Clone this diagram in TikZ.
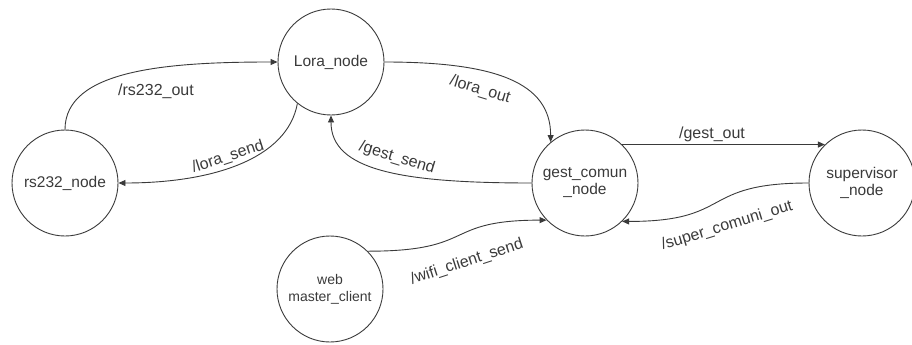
\documentclass[tikz,border=0pt]{standalone}
\usepackage{fontspec}
\setmainfont{Liberation Sans}
\usetikzlibrary{arrows.meta}
\definecolor{ink}{HTML}{3A3A3A}
\tikzset{
  state/.style={circle, draw=ink, line width=0.9pt, minimum size=106pt, inner sep=0pt,
    align=center, text=ink, font=\fontsize{15.5}{17}\selectfont},
  edge/.style={draw=ink, line width=0.9pt, -{Triangle[length=7pt,width=6pt]}},
  lbl/.style={text=ink, font=\fontsize{16}{18}\selectfont, inner sep=1pt}
}
\begin{document}
\begin{tikzpicture}[x=1pt,y=-1pt]
  \useasboundingbox (0,0) rectangle (912,345);

  % states
  \node[state] (lora) at (331,62)  {Lora\_node};
  \node[state] (rs)   at (65,183)  {rs232\_node};
  \node[state] (gc)   at (585,183) {gest\_comun\\\_node};
  \node[state] (sup)  at (862,183) {supervisor\\\_node};
  \node[state, font=\fontsize{14}{17}\selectfont] (web) at (330,289) {web\\master\_client};

  % transitions
  \draw[edge] (rs.north) .. controls +(0,-60) and +(-110,0) .. (lora.west);
  \draw[edge] (lora.231) .. controls +(-10,55) and +(95,0) .. (rs.east);
  \draw[edge] (lora.east) .. controls +(110,0) and +(0,-60) .. (gc.130);
  \draw[edge] (gc.west) .. controls +(-130,0) and +(0,55) .. (lora.south);
  \draw[edge] (gc.46) -- (sup.134);
  \draw[edge] (sup.west) .. controls +(-110,0) and +(112,0) .. (gc.-46);
  \draw[edge] (web.45) .. controls +(110,0) and +(-105,0) .. (gc.224);

  % transition labels
  \node[lbl] (l1) at (156,91) {/rs232\_out};
  \node[lbl, rotate=18] (l2) at (228,157) {/lora\_send};
  \node[lbl, rotate=-17] (l3) at (480,90) {/lora\_out};
  \node[lbl, rotate=-17] (l4) at (397,158) {/gest\_send};
  \node[lbl] (l5) at (712,134) {/gest\_out};
  \node[lbl, rotate=17] (l6) at (727,226) {/super\_comuni\_out};
  \node[lbl, rotate=18] (l7) at (467,262) {/wifi\_client\_send};
\end{tikzpicture}
\end{document}
